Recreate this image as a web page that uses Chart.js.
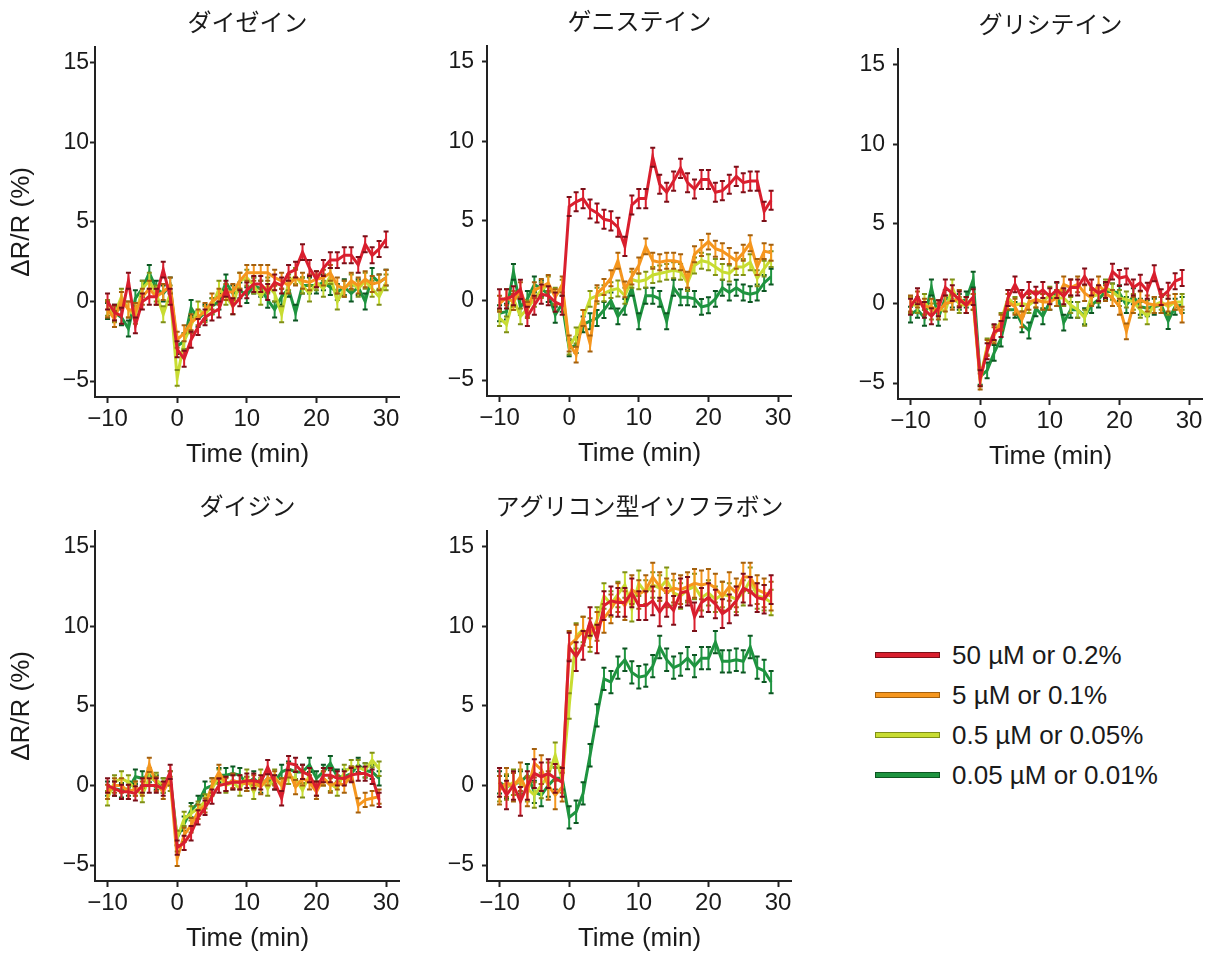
<!DOCTYPE html>
<html lang="ja">
<head>
<meta charset="utf-8">
<title>イソフラボン ΔR/R</title>
<script src="https://cdn.jsdelivr.net/npm/chart.js@4.4.1/dist/chart.umd.min.js"></script>
<style>
  body { margin: 0; background: #fff; }
  #wrap { position: relative; width: 1219px; height: 958px; overflow: hidden; background: #fff; }
  #wrap canvas { position: absolute; }
  #legend { position: absolute; left: 875px; top: 635px; font-family: "Liberation Sans", Arial, sans-serif; font-size: 26px; color: #1a1a1a; }
  .row { display: flex; align-items: center; height: 40px; }
  .sw { width: 65px; height: 6px; margin-right: 12px; }
</style>
</head>
<body>
<div id="wrap"><div id="legend"></div></div>
<script>
// time axis (min) and tick labels
const times = [-10,-9,-8,-7,-6,-5,-4,-3,-2,-1,0,1,2,3,4,5,6,7,8,9,10,11,12,13,14,15,16,17,18,19,20,21,22,23,24,25,26,27,28,29,30];
const xTicks = [-10, 0, 10, 20, 30];
const yTicks = [-5, 0, 5, 10, 15];
const seriesLabels = ['50 µM or 0.2%', '5 µM or 0.1%', '0.5 µM or 0.05%', '0.05 µM or 0.01%'];
const colors = ['#d91f2e', '#f5961e', '#c8dc32', '#1f9440'];
const capColors = ['#7a0f18', '#a3600e', '#7f8f18', '#0d5522'];

// ダイゼイン
const daidzein50  = [0.0,-0.7,-0.9,1.3,-1.5,0.0,0.3,0.3,2.0,0.3, -3.0,-3.6,-2.4,-1.6,-1.0,-0.7,-0.5,0.8,-0.3,0.2, 0.7,1.1,1.1,0.6,1.2,1.0,1.8,2.0,3.1,2.1, 1.4,2.1,2.6,2.6,2.9,2.9,2.3,3.6,2.9,3.3, 3.9];
const daidzein5   = [-0.5,-1.1,0.1,-0.5,-0.6,0.3,0.8,0.3,0.6,1.0, -2.4,-2.0,-1.3,-1.0,-0.6,0.0,0.3,0.6,0.6,1.3, 1.8,1.8,1.8,1.8,1.5,1.3,1.0,1.5,1.3,1.2, 1.4,1.5,1.8,1.0,0.8,1.3,1.0,1.4,1.1,1.2, 1.5];
const daidzein05  = [-0.4,-0.8,0.3,-0.5,-0.9,0.8,1.3,0.5,-0.8,0.5, -4.8,-2.5,-1.5,-0.5,-0.8,-0.3,0.8,0.3,-0.3,1.3, 1.5,1.0,0.3,1.0,0.5,-0.8,1.2,1.6,1.0,0.5, 1.2,0.8,1.6,0.0,0.8,1.2,0.8,1.3,0.8,0.3, 1.2];
const daidzein005 = [-0.6,-0.7,-1.0,-1.7,0.2,0.8,1.8,0.8,0.5,1.0, -2.8,-2.5,-0.4,-1.1,-0.7,-0.3,0.0,1.2,0.5,0.7, 0.4,1.0,0.8,0.1,-0.5,0.3,0.8,-0.7,1.0,1.0, 1.0,1.2,0.9,0.6,0.9,0.5,0.9,0.0,1.6,1.2, 1.5];
const daidzeinSem = [0.5, 0.5, 0.5, 0.5];

// ゲニステイン
const genistein50  = [0.1,0.1,0.3,0.7,-1.0,-0.3,0.4,0.3,-0.1,-0.3, 5.9,6.2,6.4,5.75,5.5,5.1,5.0,4.6,3.4,6.0, 6.4,6.4,9.0,7.3,6.8,7.5,8.3,7.4,7.0,7.6, 7.6,6.8,6.9,7.3,7.8,7.4,7.5,7.5,5.6,6.3];
const genistein5   = [-0.2,0.2,-0.1,0.65,-0.6,0.65,0.85,1.1,0.2,1.0, -2.7,-3.4,-1.1,-2.7,0.45,0.85,1.4,2.5,0.7,1.5, 2.2,3.4,2.5,2.4,2.5,2.5,2.4,1.3,2.9,3.3, 3.7,3.25,3.1,2.8,2.5,3.0,3.6,2.1,3.1,3.0];
const genistein05  = [-1.1,-1.5,0.1,-1.0,-0.5,0.1,0.65,1.0,0.3,0.8, -2.9,-2.2,-1.1,0.1,0.3,0.45,0.65,0.75,0.3,1.3, 1.2,1.3,1.6,1.7,1.8,1.9,1.8,1.1,2.2,2.5, 2.4,2.1,1.8,1.7,2.1,2.1,2.4,1.4,2.0,2.6];
const genistein005 = [-0.8,-0.7,1.8,-0.4,0.1,1.0,0.75,0.4,-0.9,-0.2, -3.0,-2.8,-1.5,-1.3,-1.1,-0.6,0.0,-1.0,-0.4,0.8, -1.3,0.3,0.3,0.1,-1.3,0.8,0.2,0.2,0.1,-0.4, -0.3,0.1,0.8,0.5,0.8,0.5,0.4,0.5,1.1,1.5];
const genisteinSem = [0.6, 0.5, 0.5, 0.5];

// グリシテイン
const glycitein50  = [-0.2,0.45,-0.4,-0.8,-0.3,1.0,0.65,0.25,-0.1,0.4, -4.7,-3.0,-1.8,-1.6,0.35,1.2,0.35,0.85,0.55,0.85, 0.45,0.85,0.45,1.0,1.0,1.7,1.0,0.65,0.85,2.0, 1.6,1.7,1.0,1.3,0.8,1.9,0.4,0.8,1.4,1.6];
const glycitein5   = [0.0,0.25,-0.2,-0.2,-0.5,0.0,0.1,0.35,-0.1,0.1, -4.9,-2.8,-2.0,-1.2,0.1,-0.2,-1.0,0.1,0.25,0.1, 0.1,0.35,1.2,1.0,1.2,0.65,0.35,1.2,0.65,0.35, -0.2,-1.75,-0.1,0.25,0.0,-0.1,-0.1,0.0,0.1,-0.7];
const glycitein05  = [-0.1,-0.1,0.1,-0.5,-0.3,-0.5,1.0,-0.1,-0.1,0.1, -4.7,-2.7,-1.85,-1.1,0.35,-0.1,0.0,-0.1,0.25,0.1, 0.55,0.35,0.35,-0.1,-0.4,-0.9,0.45,0.55,1.0,0.75, 0.35,0.25,0.1,-0.4,-0.8,-0.1,0.1,-0.2,0.1,0.1];
const glycitein005 = [-0.7,-0.4,-0.9,1.0,-0.9,0.35,0.25,0.1,0.25,1.5, -4.6,-4.2,-3.1,-2.2,-0.4,-0.4,-1.3,-1.7,-0.3,-0.8, 0.1,0.8,-1.2,-0.4,-0.4,-0.8,-0.1,0.25,0.75,0.75, 0.65,-0.1,0.45,-0.2,-0.3,-0.2,-0.1,-1.1,-0.2,-0.1];
const glyciteinSem = [0.5, 0.5, 0.5, 0.5];

// ダイジン
const daidzin50  = [0.0,-0.2,-0.4,-0.4,-0.5,0.0,0.0,0.0,-0.2,0.85, -3.9,-3.6,-3.0,-2.0,-1.4,-0.7,0.0,0.1,0.2,0.2, 0.3,0.3,0.2,1.15,0.2,-0.8,1.4,1.3,0.85,0.65, -0.2,0.65,0.65,0.45,0.45,0.65,0.75,0.75,0.55,-0.9];
const daidzin5   = [-0.4,0.0,0.0,-0.4,-0.2,-0.2,1.3,0.1,-0.4,0.45, -4.6,-3.1,-2.5,-1.65,-1.25,0.0,0.85,0.1,0.3,0.2, 0.1,0.2,-0.1,0.45,0.45,0.0,0.95,-0.1,0.45,0.2, -0.4,0.45,0.0,0.2,0.0,0.75,-1.25,-0.9,-0.8,-0.7];
const daidzin05  = [-0.8,0.2,0.45,0.2,-0.2,-0.6,0.45,0.35,0.0,0.1, -3.3,-2.1,-1.75,-1.45,-1.0,-0.2,0.55,0.0,0.2,-0.2, 0.55,-0.4,0.55,-0.2,0.55,0.0,0.55,0.45,-0.3,0.65, -0.2,0.45,0.1,-0.2,0.85,1.15,1.15,0.95,1.6,1.05];
const daidzin005 = [-0.2,-0.2,-0.3,-0.2,0.55,0.45,0.65,0.2,0.0,0.45, -3.3,-2.4,-1.55,-1.1,-0.2,0.0,0.65,0.65,0.75,0.65, 0.1,0.45,0.0,0.45,0.2,0.85,1.05,0.85,0.85,1.3, 0.45,0.85,1.4,0.55,0.55,0.75,1.3,0.95,0.85,0.45];
const daidzinSem = [0.45, 0.45, 0.45, 0.45];

// アグリコン型イソフラボン
const aglycone02  = [0.2,-0.6,0.0,-1.0,0.0,0.75,0.55,0.75,0.45,0.2, 8.7,8.1,8.8,10.3,9.2,11.3,11.6,11.5,11.5,12.1, 11.3,11.3,11.6,10.9,11.5,11.0,12.1,12.2,10.6,11.5, 11.8,11.4,10.8,11.1,11.6,12.4,12.2,11.8,11.7,12.3];
const aglycone01  = [-0.3,0.2,-0.1,0.55,-0.4,1.4,1.0,0.0,-0.6,-0.1, 8.8,9.2,9.7,9.6,10.0,10.5,11.1,11.8,11.3,12.3, 12.0,12.3,13.1,12.5,12.1,12.4,12.3,12.5,12.7,12.6, 12.7,12.4,11.9,12.5,12.1,13.1,13.1,12.3,12.1,11.9];
const aglycone005 = [-0.2,-0.1,0.2,0.2,-0.2,-0.6,0.0,0.65,1.9,0.35, 5.0,9.4,9.8,9.2,10.4,11.9,11.4,12.0,12.6,11.1, 12.7,12.1,12.6,12.4,12.9,12.1,11.9,12.3,12.5,11.8, 12.1,11.7,12.0,11.9,11.7,12.1,12.9,11.9,11.8,11.5];
const aglycone001 = [0.2,-0.1,0.1,0.2,0.65,-0.4,-0.6,0.0,0.45,0.45, -2.0,-1.65,-0.5,1.9,4.4,6.7,6.5,7.4,7.9,7.1, 6.8,6.9,7.5,8.7,7.9,7.4,7.6,8.0,7.5,8.0, 8.0,9.0,7.8,7.8,7.9,7.8,8.7,7.4,7.2,6.5];
const aglyconeSem = [0.9, 0.9, 0.8, 0.7];

const panels = [
  { title: 'ダイゼイン', series: [daidzein50, daidzein5, daidzein05, daidzein005], sem: daidzeinSem, left: 95, top: 47, yw: 95, yTitle: true, pad: 1 },
  { title: 'ゲニステイン', series: [genistein50, genistein5, genistein05, genistein005], sem: genisteinSem, left: 487, top: 46, yw: 70, yTitle: false, pad: 8 },
  { title: 'グリシテイン', series: [glycitein50, glycitein5, glycitein05, glycitein005], sem: glyciteinSem, left: 898, top: 49, yw: 70, yTitle: false, pad: 8 },
  { title: 'ダイジン', series: [daidzin50, daidzin5, daidzin05, daidzin005], sem: daidzinSem, left: 95, top: 531, yw: 95, yTitle: true, pad: 1 },
  { title: 'アグリコン型イソフラボン', series: [aglycone02, aglycone01, aglycone005, aglycone001], sem: aglyconeSem, left: 487, top: 531, yw: 70, yTitle: false, pad: 8 }
];

const plotW = 305, plotH = 350, titleH = 40, xh = 75;
const latin = '"Liberation Sans", Arial, sans-serif';
const jp = '"Noto Sans CJK JP", sans-serif';
const ink = '#1a1a1a';

function minus(v) { return v < 0 ? '\u2212' + Math.abs(v) : String(v); }

const errorBars = {
  id: 'errorBars',
  afterDatasetDraw(chart, args) {
    const ds = chart.data.datasets[args.index];
    const y = chart.scales.y;
    const ctx = chart.ctx;
    ctx.save();
    args.meta.data.forEach((pt, i) => {
      const v = ds.data[i].y;
      const top = y.getPixelForValue(v + ds.sem);
      const bot = y.getPixelForValue(v - ds.sem);
      ctx.strokeStyle = ds.borderColor;
      ctx.lineWidth = 2;
      ctx.beginPath();
      ctx.moveTo(pt.x, top);
      ctx.lineTo(pt.x, bot);
      ctx.stroke();
      ctx.strokeStyle = ds.capColor;
      ctx.lineWidth = 2;
      ctx.beginPath();
      ctx.moveTo(pt.x - 2.5, top); ctx.lineTo(pt.x + 2.5, top);
      ctx.moveTo(pt.x - 2.5, bot); ctx.lineTo(pt.x + 2.5, bot);
      ctx.stroke();
    });
    ctx.restore();
  }
};

const wrap = document.getElementById('wrap');

panels.forEach(p => {
  const canvas = document.createElement('canvas');
  canvas.width = p.yw + plotW;
  canvas.height = titleH + plotH + xh;
  canvas.style.left = (p.left - p.yw) + 'px';
  canvas.style.top = (p.top - titleH) + 'px';
  wrap.appendChild(canvas);

  new Chart(canvas, {
    type: 'line',
    data: {
      datasets: p.series.map((vals, k) => ({
        label: seriesLabels[k],
        data: vals.map((v, i) => ({ x: times[i], y: v })),
        borderColor: colors[k],
        borderWidth: 3,
        pointRadius: 0,
        tension: 0,
        fill: false,
        sem: p.sem[k],
        capColor: capColors[k]
      }))
    },
    options: {
      responsive: false,
      animation: false,
      devicePixelRatio: 1,
      layout: { padding: 0 },
      plugins: {
        legend: { display: false },
        tooltip: { enabled: false },
        title: {
          display: true, text: p.title, fullSize: false, color: ink,
          font: { family: jp, size: 24, weight: 'normal' },
          padding: { top: 0, bottom: 11 }
        }
      },
      scales: {
        x: {
          type: 'linear', min: -11.8, max: 32,
          afterBuildTicks: s => { s.ticks = xTicks.map(v => ({ value: v })); },
          afterFit: s => { s.height = xh; s.paddingLeft = 0; s.paddingRight = 0; },
          ticks: { color: ink, font: { family: latin, size: 24 }, padding: 2, maxRotation: 0, callback: v => minus(v) },
          grid: { drawOnChartArea: false, tickLength: 6, tickWidth: 2, color: '#222' },
          border: { display: true, width: 2, color: '#222' },
          title: { display: true, text: 'Time (min)', color: ink, font: { family: latin, size: 26 }, padding: { top: 0, bottom: 2 } }
        },
        y: {
          type: 'linear', min: -6, max: 16,
          afterBuildTicks: s => { s.ticks = yTicks.map(v => ({ value: v })); },
          afterFit: s => { s.width = p.yw; s.paddingTop = 0; s.paddingBottom = 0; },
          ticks: { color: ink, font: { family: latin, size: 23 }, padding: p.pad, callback: v => minus(v) },
          grid: { drawOnChartArea: false, tickLength: 5, tickWidth: 2, color: '#222' },
          border: { display: true, width: 2, color: '#222' },
          title: { display: p.yTitle, text: 'ΔR/R (%)', color: ink, font: { family: latin, size: 26 }, padding: { top: 6, bottom: 0 } }
        }
      }
    },
    plugins: [errorBars]
  });
});

// legend
const legend = document.getElementById('legend');
seriesLabels.forEach((name, k) => {
  const row = document.createElement('div');
  row.className = 'row';
  const sw = document.createElement('span');
  sw.className = 'sw';
  sw.style.background = colors[k];
  sw.style.boxShadow = 'inset 0 0 0 1px ' + capColors[k];
  const txt = document.createElement('span');
  txt.textContent = name;
  row.appendChild(sw);
  row.appendChild(txt);
  legend.appendChild(row);
});
</script>
</body>
</html>
